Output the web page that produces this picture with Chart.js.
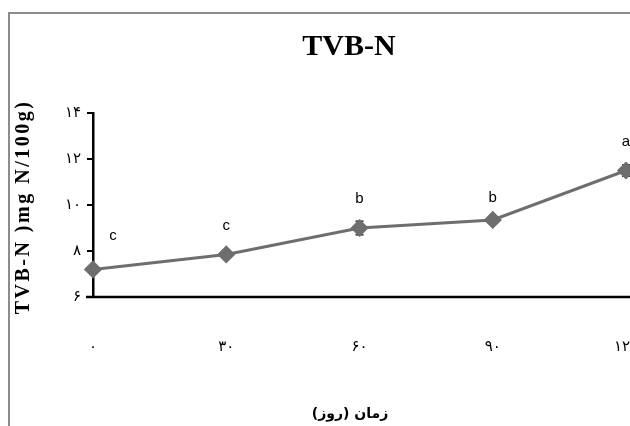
<!DOCTYPE html>
<html>
<head>
<meta charset="utf-8">
<script src="https://cdn.jsdelivr.net/npm/chart.js@4/dist/chart.umd.min.js"></script>
<style>
  html, body { margin: 0; padding: 0; background: #fff; overflow: hidden; }
  canvas { display: block; }
</style>
</head>
<body>
<canvas id="tvbChart" width="640" height="426" style="width:640px;height:426px"></canvas>
<script>
const days = ["۰", "۳۰", "۶۰", "۹۰", "۱۲۰"];
const tvbValues = [7.2, 7.85, 9.0, 9.35, 11.5];
const tvbErrors = [0.1, 0.1, 0.3, 0.1, 0.25];
const groupLetters = ["c", "c", "b", "b", "a"];
const yTickLabels = { 6: "۶", 8: "۸", 10: "۱۰", 12: "۱۲", 14: "۱۴" };

const chartTitle = "TVB-N";
const yTitle = "TVB-N )mg N/100g)";
const xTitle = "زمان (روز)";

const decorPlugin = {
  id: "decor",
  beforeDraw(chart) {
    const ctx = chart.ctx;
    ctx.save();
    ctx.fillStyle = "#fff";
    ctx.fillRect(0, 0, chart.width, chart.height);
    // outer frame
    ctx.strokeStyle = "#8c8c8c";
    ctx.lineWidth = 2;
    ctx.beginPath();
    ctx.moveTo(9, chart.height);
    ctx.lineTo(9, 13);
    ctx.lineTo(chart.width, 13);
    ctx.stroke();
    ctx.restore();
  },
  beforeDatasetsDraw(chart) {
    const ctx = chart.ctx;
    const xs = chart.scales.x;
    const ys = chart.scales.y;
    ctx.save();
    // error bars, mostly hidden behind the markers
    ctx.strokeStyle = "#000";
    ctx.lineWidth = 1.2;
    tvbValues.forEach((v, i) => {
      const x = xs.getPixelForValue(i);
      const top = ys.getPixelForValue(v + tvbErrors[i]);
      const bot = ys.getPixelForValue(v - tvbErrors[i]);
      ctx.beginPath();
      ctx.moveTo(x, top); ctx.lineTo(x, bot);
      ctx.moveTo(x - 4, top); ctx.lineTo(x + 4, top);
      ctx.moveTo(x - 4, bot); ctx.lineTo(x + 4, bot);
      ctx.stroke();
    });
    ctx.restore();
  },
  afterDatasetsDraw(chart) {
    const ctx = chart.ctx;
    const xs = chart.scales.x;
    const ys = chart.scales.y;
    const area = chart.chartArea;
    ctx.save();

    // x axis line, extended past the y axis like the original
    ctx.strokeStyle = "#000";
    ctx.lineWidth = 2.5;
    ctx.beginPath();
    ctx.moveTo(area.left - 7, ys.getPixelForValue(6));
    ctx.lineTo(chart.width, ys.getPixelForValue(6));
    ctx.stroke();

    // significance letters
    ctx.fillStyle = "#000";
    ctx.font = "15px 'Liberation Sans', Arial, sans-serif";
    ctx.textAlign = "center";
    ctx.textBaseline = "middle";
    groupLetters.forEach((t, i) => {
      const x = xs.getPixelForValue(i) + (i === 0 ? 20 : 0);
      const y = ys.getPixelForValue(tvbValues[i]) - (i === 0 ? 34 : i === 3 ? 22 : 29);
      ctx.fillText(t, x, y);
    });

    // titles
    ctx.font = "bold 30px 'Liberation Serif', 'Times New Roman', serif";
    ctx.fillText(chartTitle, 349, 47);

    ctx.font = "bold 14px 'DejaVu Sans', sans-serif";
    ctx.fillText(xTitle, 350, 414);

    ctx.translate(24, 207);
    ctx.rotate(-Math.PI / 2);
    ctx.font = "bold 20px 'Liberation Serif', 'Times New Roman', serif";
    ctx.letterSpacing = "2.5px";
    ctx.fillText(yTitle, 0, 0);
    ctx.restore();
  }
};

new Chart(document.getElementById("tvbChart"), {
  type: "line",
  data: {
    labels: days,
    datasets: [{
      data: tvbValues,
      borderColor: "#6e6e6e",
      backgroundColor: "#6e6e6e",
      borderWidth: 3,
      pointStyle: "rectRot",
      pointRadius: 7,
      pointHoverRadius: 7,
      tension: 0
    }]
  },
  options: {
    responsive: false,
    animation: false,
    layout: { padding: { top: 113, left: 0, right: 14, bottom: 0 } },
    plugins: {
      legend: { display: false },
      tooltip: { enabled: false }
    },
    scales: {
      x: {
        offset: false,
        grid: { display: true, drawOnChartArea: false, drawTicks: true, tickLength: 41, color: "rgba(0,0,0,0)" },
        border: { display: false },
        ticks: {
          padding: 0,
          color: "#000",
          maxRotation: 0,
          autoSkip: false,
          font: { family: "'DejaVu Sans', sans-serif", size: 15 }
        },
        afterFit: (s) => { s.height = 129; }
      },
      y: {
        min: 6,
        max: 14,
        grid: { drawOnChartArea: false, color: "#000", lineWidth: 2, tickLength: 6 },
        border: { color: "#000", width: 2.5 },
        ticks: {
          stepSize: 2,
          padding: 6,
          color: "#000",
          font: { family: "'DejaVu Sans', sans-serif", size: 15 },
          callback: (v) => yTickLabels[v] || ""
        },
        afterFit: (s) => { s.width = 93; }
      }
    }
  },
  plugins: [decorPlugin]
});
</script>
</body>
</html>
